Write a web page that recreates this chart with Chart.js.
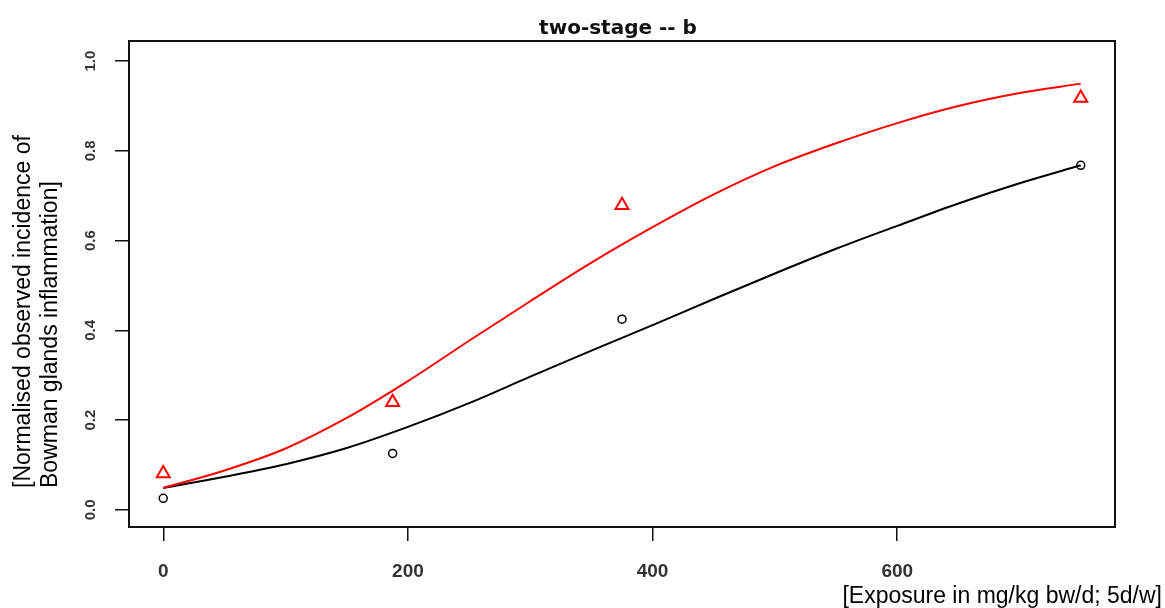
<!DOCTYPE html>
<html>
<head>
<meta charset="utf-8">
<script src="https://cdn.jsdelivr.net/npm/chart.js@4.4.0/dist/chart.umd.min.js"></script>
<style>
  html, body { margin: 0; padding: 0; background: #fff; }
</style>
</head>
<body>
<canvas id="doseChart" width="1165" height="608"></canvas>
<script>
// observed (normalised) incidences
const doses = [0, 187.5, 375, 750];
const observedBlack = [0.026, 0.126, 0.425, 0.768];
const observedRed = [0.081, 0.240, 0.679, 0.918];

// fitted two-stage curves
const fitDoses = [0, 50, 100, 150, 200, 250, 300, 350, 400, 450, 500, 550, 600, 650, 700, 750];
const fitBlack = [0.049, 0.074, 0.102, 0.138, 0.185, 0.238, 0.297, 0.355, 0.412, 0.470, 0.527, 0.582, 0.633, 0.683, 0.728, 0.768];
const fitRed = [0.049, 0.088, 0.137, 0.205, 0.287, 0.377, 0.465, 0.551, 0.630, 0.703, 0.766, 0.817, 0.862, 0.900, 0.929, 0.950];

const xTicks = [0, 200, 400, 600];
const yTicks = [0, 0.2, 0.4, 0.6, 0.8, 1.0];
const yTickLabels = ["0.0", "0.2", "0.4", "0.6", "0.8", "1.0"];

const chartTitle = "two-stage -- b";
const xTitle = "[Exposure in mg/kg bw/d; 5d/w]";
const yTitle = ["[Normalised observed incidence of", "Bowman glands inflammation]"];

const pairs = (xs, ys) => xs.map((x, i) => ({ x: x, y: ys[i] }));

// box, rotated y labels and titles (R style)
const rFrame = {
  id: "rFrame",
  afterDraw(chart) {
    const { ctx, chartArea, scales } = chart;
    ctx.save();
    ctx.strokeStyle = "#111";
    ctx.lineWidth = 2;
    ctx.strokeRect(chartArea.left, chartArea.top, chartArea.right - chartArea.left, chartArea.bottom - chartArea.top);

    ctx.fillStyle = "#333";
    ctx.font = "bold 15px 'Liberation Sans', Arial, sans-serif";
    ctx.textAlign = "center";
    ctx.textBaseline = "middle";
    yTicks.forEach((v, i) => {
      ctx.save();
      ctx.translate(91, scales.y.getPixelForValue(v));
      ctx.rotate(-Math.PI / 2);
      ctx.fillText(yTickLabels[i], 0, 0);
      ctx.restore();
    });

    ctx.fillStyle = "#111";
    ctx.textBaseline = "alphabetic";
    ctx.font = "bold 20px 'DejaVu Sans', sans-serif";
    ctx.fillText(chartTitle, (chartArea.left + chartArea.right) / 2 - 4, 34);

    ctx.fillStyle = "#000";
    ctx.font = "23px 'Liberation Sans', Arial, sans-serif";
    ctx.textAlign = "right";
    ctx.fillText(xTitle, 1162, 603);

    ctx.save();
    ctx.translate(0, 488);
    ctx.rotate(-Math.PI / 2);
    ctx.textAlign = "left";
    ctx.fillText(yTitle[0], 0, 30);
    ctx.fillText(yTitle[1], 0, 57);
    ctx.restore();
    ctx.restore();
  }
};

new Chart(document.getElementById("doseChart"), {
  type: "scatter",
  data: {
    datasets: [
      {
        label: "fit red",
        data: pairs(fitDoses, fitRed),
        showLine: true,
        borderColor: "#ff0000",
        borderWidth: 2,
        pointRadius: 0,
        cubicInterpolationMode: "monotone"
      },
      {
        label: "observed red",
        data: pairs(doses, observedRed),
        pointStyle: "triangle",
        pointRadius: 7.5,
        borderWidth: 2,
        borderColor: "#ff0000",
        backgroundColor: "rgba(0,0,0,0)"
      },
      {
        label: "fit black",
        data: pairs(fitDoses, fitBlack),
        showLine: true,
        borderColor: "#000",
        borderWidth: 2,
        pointRadius: 0,
        cubicInterpolationMode: "monotone"
      },
      {
        label: "observed black",
        data: pairs(doses, observedBlack),
        pointStyle: "circle",
        pointRadius: 4,
        borderWidth: 1.5,
        borderColor: "#000",
        backgroundColor: "rgba(0,0,0,0)"
      }
    ]
  },
  options: {
    responsive: false,
    animation: false,
    layout: { padding: { top: 41, right: 50, left: 0, bottom: 0 } },
    plugins: {
      legend: { display: false },
      tooltip: { enabled: false },
      title: { display: false }
    },
    scales: {
      x: {
        type: "linear",
        min: -28,
        max: 778,
        afterBuildTicks: (s) => { s.ticks = xTicks.map(v => ({ value: v })); },
        afterFit: (s) => { s.height = 81; },
        border: { display: false },
        grid: { drawOnChartArea: false, drawTicks: true, tickLength: 14, color: "#111", lineWidth: 1.5 },
        ticks: {
          padding: 19,
          color: "#333",
          maxRotation: 0,
          font: { family: "'Liberation Sans', Arial, sans-serif", size: 19, weight: "bold" },
          callback: (v) => String(v)
        }
      },
      y: {
        type: "linear",
        min: -0.038,
        max: 1.045,
        afterBuildTicks: (s) => { s.ticks = yTicks.map(v => ({ value: v })); },
        afterFit: (s) => { s.width = 129; },
        border: { display: false },
        grid: { drawOnChartArea: false, drawTicks: true, tickLength: 14, color: "#111", lineWidth: 1.5 },
        ticks: { color: "rgba(0,0,0,0)" }
      }
    }
  },
  plugins: [rFrame]
});
</script>
</body>
</html>
